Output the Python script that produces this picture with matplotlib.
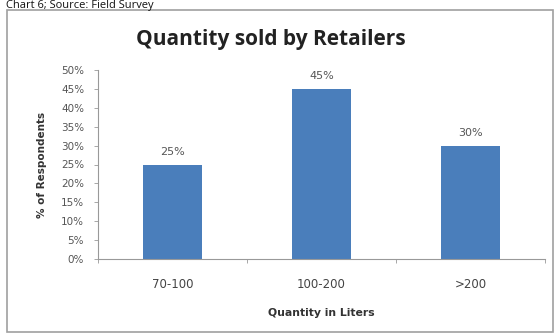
import matplotlib.pyplot as plt
from matplotlib.patches import Rectangle

categories = ["70-100", "100-200", ">200"]
values = [25, 45, 30]
labels = ["25%", "45%", "30%"]
yticks = [0, 5, 10, 15, 20, 25, 30, 35, 40, 45, 50]

fig = plt.figure(figsize=(5.56, 3.36), dpi=100)
fig.patch.set_facecolor("white")

# caption at the very top of the image
fig.text(0.01, 0.999, "Chart 6; Source: Field Survey", fontsize=8, family="Open Sans",
         va="top", ha="left", color="#111111")

# chart frame
fig.patches.append(Rectangle((7 / 556, 4 / 336), 546 / 556, 322 / 336, transform=fig.transFigure,
                             fill=False, edgecolor="#a0a0a0", linewidth=1.2))

ax = fig.add_axes([98 / 556, 77 / 336, 447 / 556, 189 / 336])
ax.bar(range(len(categories)), values, width=0.39, color="#4a7ebb", zorder=2)
for i, (v, t) in enumerate(zip(values, labels)):
    ax.text(i, v + 2, t, ha="center", va="bottom", fontsize=8, color="#555555")

ax.set_xlim(-0.5, 2.5)
ax.set_ylim(0, 50)
ax.set_yticks(yticks)
ax.set_yticklabels([f"{t}%" for t in yticks], fontsize=7.5, color="#555555")
ax.set_xticks(range(len(categories)))
ax.set_xticklabels(categories, fontsize=8.5, color="#444444")
ax.set_xticks([-0.5, 0.5, 1.5, 2.5], minor=True)
ax.tick_params(axis="x", which="major", length=0, pad=14)
ax.tick_params(axis="x", which="minor", length=3, color="#999999", width=0.6)
ax.tick_params(axis="y", length=3, color="#999999", width=0.6, pad=7)
for s in ["top", "right"]:
    ax.spines[s].set_visible(False)
ax.spines["left"].set_color("#999999")
ax.spines["bottom"].set_color("#999999")

fig.text(271 / 556, 1 - 40 / 336, "Quantity sold by Retailers", fontsize=15, fontweight="bold",
         family="Open Sans", color="#222222", ha="center", va="center")
ax.set_xlabel("Quantity in Liters", fontsize=7.8, fontweight="bold", color="#333333", labelpad=12)
ax.set_ylabel("% of Respondents", fontsize=7.5, fontweight="bold", color="#333333", labelpad=10)

fig.savefig("out.png", dpi=100)
